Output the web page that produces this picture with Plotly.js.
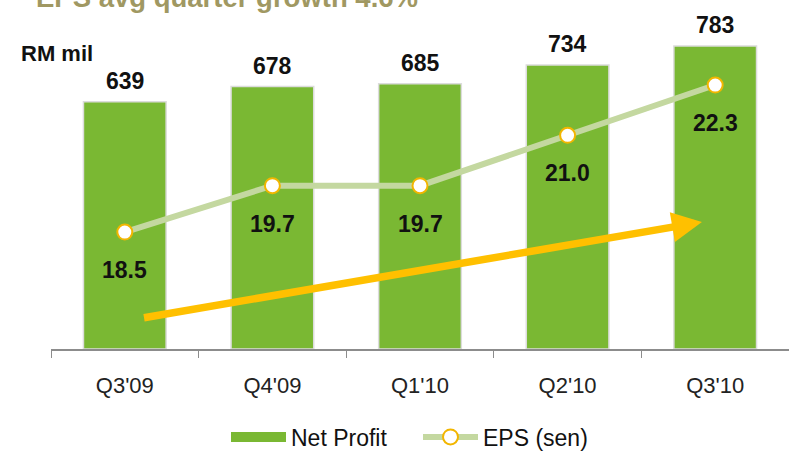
<!DOCTYPE html>
<html>
<head>
<meta charset="utf-8">
<script src="https://cdn.plot.ly/plotly-3.0.1.min.js"></script>
<style>
  html, body { margin: 0; padding: 0; background: #fff; }
  #chart { width: 789px; height: 451px; }
</style>
</head>
<body>
<div id="chart"></div>
<script>
// chart data
const quarters = ["Q3'09", "Q4'09", "Q1'10", "Q2'10", "Q3'10"];
const netProfit = [639, 678, 685, 734, 783];
const eps = [18.5, 19.7, 19.7, 21.0, 22.3];

const FONT = 'Arial, "Liberation Sans", sans-serif';
const GREEN = '#7ab833';

const bars = {
  name: 'Net Profit',
  type: 'bar',
  x: quarters,
  y: netProfit,
  width: 0.56,
  showlegend: false,
  marker: { color: GREEN, line: { color: '#dcdcdc', width: 1.5 } },
  hoverinfo: 'x+y'
};

// legend-only entry so the swatch is a wide bar like the original
const barKey = {
  name: 'Net Profit',
  type: 'scatter',
  mode: 'lines',
  x: [null],
  y: [null],
  line: { color: GREEN, width: 10 },
  hoverinfo: 'skip'
};

const epsLine = {
  name: 'EPS (sen)',
  type: 'scatter',
  mode: 'lines+markers',
  x: quarters,
  y: eps,
  yaxis: 'y2',
  line: { color: '#c4d8a0', width: 6 },
  marker: { color: '#ffffff', size: 15, line: { color: '#f2b600', width: 2 } }
};

// value labels
const barLabels = quarters.map((q, i) => ({
  x: q, y: netProfit[i], xref: 'x', yref: 'y',
  text: String(netProfit[i]), showarrow: false,
  yanchor: 'bottom', yshift: 6,
  font: { family: FONT, size: 23, color: '#111', weight: 'bold' }
}));

const epsLabels = quarters.map((q, i) => ({
  x: q, y: eps[i], xref: 'x', yref: 'y2',
  text: eps[i].toFixed(1), showarrow: false,
  yanchor: 'middle', yshift: -38,
  font: { family: FONT, size: 23, color: '#111', weight: 'bold' }
}));

const extras = [
  {
    // trend arrow
    x: 3.91, y: 328, xref: 'x', yref: 'y',
    ax: 0.12, ay: 80, axref: 'x', ayref: 'y',
    text: '', showarrow: true,
    arrowcolor: '#ffc000', arrowwidth: 7.5, arrowhead: 2, arrowsize: 0.8
  },
  {
    text: 'RM mil', showarrow: false,
    xref: 'paper', yref: 'paper', x: 0.008, y: (349 - 54) / 329,
    xanchor: 'center', yanchor: 'middle',
    font: { family: FONT, size: 22, color: '#111', weight: 'bold' }
  },
  {
    text: 'EPS avg quarter growth 4.6%', showarrow: false,
    xref: 'paper', yref: 'paper', x: -0.023, y: (349 + 2) / 329,
    xanchor: 'left', yanchor: 'middle',
    font: { family: FONT, size: 27.5, color: '#a09862', weight: 'bold' }
  }
];

const layout = {
  width: 789,
  height: 451,
  margin: { l: 51, r: 0, t: 20, b: 102, autoexpand: false },
  paper_bgcolor: '#ffffff',
  plot_bgcolor: '#ffffff',
  font: { family: FONT, size: 22, color: '#222' },
  showlegend: true,
  legend: {
    orientation: 'h', x: (226 - 51) / 738, xanchor: 'left',
    y: (349 - 437) / 329, yanchor: 'middle',
    font: { family: FONT, size: 23, color: '#111' },
    traceorder: 'normal', itemwidth: 55, entrywidth: 122
  },
  xaxis: {
    type: 'category',
    showline: true, linecolor: '#8c8c8c', linewidth: 1.5,
    ticks: 'outside', tickson: 'boundaries', ticklen: 7, tickcolor: '#8c8c8c',
    ticklabelstandoff: 16,
    showgrid: false, zeroline: false,
    tickfont: { family: FONT, size: 22, color: '#222' },
    range: [-0.5, 4.5]
  },
  yaxis: {
    range: [0, 850], visible: false, showgrid: false, zeroline: false
  },
  yaxis2: {
    overlaying: 'y', side: 'right',
    range: [15.48, 23.98], visible: false, showgrid: false, zeroline: false
  },
  annotations: barLabels.concat(epsLabels, extras),
  bargap: 0.44
};

Plotly.newPlot('chart', [bars, barKey, epsLine], layout, { displayModeBar: false, staticPlot: true });
</script>
</body>
</html>
